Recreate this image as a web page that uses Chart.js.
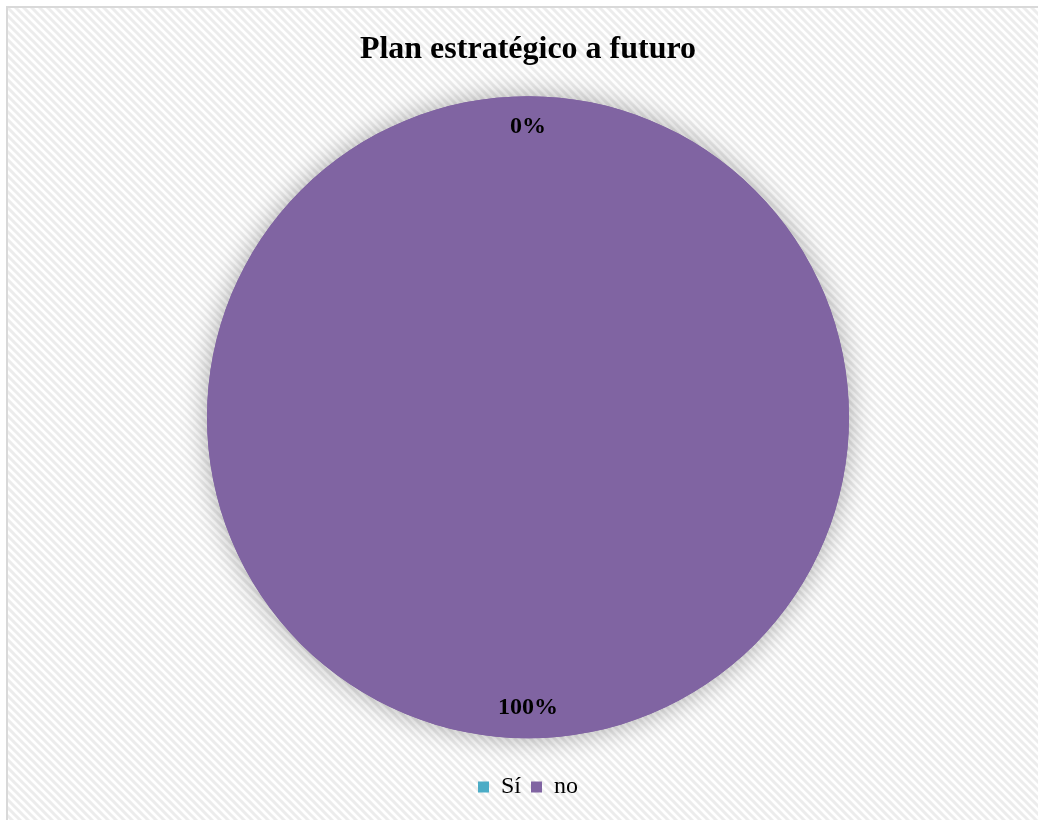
<!DOCTYPE html>
<html>
<head>
<meta charset="utf-8">
<title>Plan estratégico a futuro</title>
<script src="https://cdn.jsdelivr.net/npm/chart.js@4"></script>
<style>
    html, body { margin: 0; padding: 0; background: #ffffff; }
    #wrap { position: relative; width: 1038px; height: 820px; }
    #frame { position: absolute; left: 6px; top: 6px; width: 1040px; height: 820px;
             border-left: 2px solid #d9d9d9; border-top: 2px solid #d9d9d9; }
    canvas { position: absolute; left: 0; top: 0; }
</style>
</head>
<body>
<div id="wrap">
    <div id="frame"></div>
    <canvas id="planChart" width="1038" height="820"></canvas>
</div>
<script>
var categories = ["Sí", "no"];
var counts = [0, 100];
var percentLabels = ["0%", "100%"];
var sliceColors = ["#4BACC6", "#8064A2"];

// diagonal light-grey stripes behind the chart
function stripePattern(ctx) {
    var tile = document.createElement("canvas");
    tile.width = 8;
    tile.height = 8;
    var t = tile.getContext("2d");
    t.fillStyle = "#ffffff";
    t.fillRect(0, 0, 8, 8);
    t.strokeStyle = "#ececec";
    t.lineWidth = 3;
    t.beginPath();
    t.moveTo(-2, -2); t.lineTo(10, 10);
    t.moveTo(-6, 2); t.lineTo(2, 10);
    t.moveTo(6, -2); t.lineTo(14, 6);
    t.stroke();
    return ctx.createPattern(tile, "repeat");
}

var backgroundPlugin = {
    id: "stripes",
    beforeDraw: function(chart) {
        var ctx = chart.ctx;
        ctx.save();
        ctx.fillStyle = stripePattern(ctx);
        ctx.fillRect(8, 8, chart.width - 8, chart.height - 8);
        ctx.restore();
    }
};

// soft halo under the pie
var shadowPlugin = {
    id: "pieShadow",
    beforeDatasetsDraw: function(chart) {
        var arc = chart.getDatasetMeta(0).data[1];
        var ctx = chart.ctx;
        ctx.save();
        ctx.shadowColor = "rgba(0,0,0,0.32)";
        ctx.shadowBlur = 26;
        ctx.fillStyle = "#8064A2";
        ctx.beginPath();
        ctx.arc(arc.x, arc.y, arc.outerRadius, 0, Math.PI * 2);
        ctx.fill();
        ctx.restore();
    }
};

// percentage labels placed near the rim at each slice's middle angle
var labelPlugin = {
    id: "sliceLabels",
    afterDatasetsDraw: function(chart) {
        var ctx = chart.ctx;
        var meta = chart.getDatasetMeta(0);
        ctx.save();
        ctx.font = "bold 24px 'Liberation Serif'";
        ctx.fillStyle = "#000000";
        ctx.textAlign = "center";
        ctx.textBaseline = "middle";
        meta.data.forEach(function(arc, i) {
            var mid = (arc.startAngle + arc.endAngle) / 2;
            var r = arc.outerRadius * 0.905;
            ctx.fillText(percentLabels[i], arc.x + Math.cos(mid) * r, arc.y + Math.sin(mid) * r);
        });
        ctx.restore();
    }
};

var ctx = document.querySelector("#planChart").getContext("2d");

var planChart = new Chart(ctx, {
    type: 'pie',
    data: {
        labels: categories,
        datasets: [
            {
                data: counts,
                backgroundColor: sliceColors,
                borderColor: "#ffffff",
                borderWidth: 0,
                radius: 321
            }
        ]
    },
    options: {
        responsive: false,
        animation: false,
        layout: { padding: { left: 18, right: 0, top: 0, bottom: 11 } },
        plugins: {
            title: {
                display: true,
                text: "Plan estratégico a futuro",
                color: "#000000",
                font: { family: "'Liberation Serif'", size: 32, weight: "bold" },
                padding: { top: 31, bottom: 0 }
            },
            legend: {
                position: 'bottom',
                labels: {
                    color: "#000000",
                    font: { family: "'Liberation Serif'", size: 24 },
                    boxWidth: 11,
                    boxHeight: 11,
                    padding: 10
                }
            },
            tooltip: { enabled: false }
        }
    },
    plugins: [backgroundPlugin, shadowPlugin, labelPlugin]
});
</script>
</body>
</html>
